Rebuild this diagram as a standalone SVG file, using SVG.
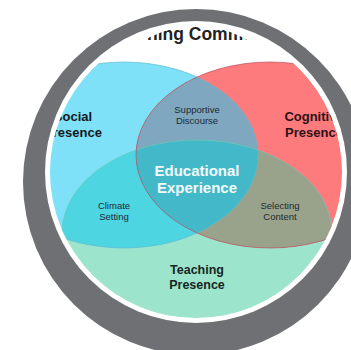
<svg xmlns="http://www.w3.org/2000/svg" width="351" height="350" viewBox="0 0 351 350">
<defs>
<style>
.lbl{font-family:"Liberation Sans",Arial,sans-serif;text-anchor:middle}
.big{font-weight:bold;font-size:13px;fill:#15181c}
.tch{font-weight:bold;font-size:12.5px;fill:#17261f}
.sm{font-size:9.5px;fill:#1d2a33}
.edu{font-weight:bold;font-size:15px;fill:#f2fbfc}
.edge{fill:none;stroke-width:0.7}
</style>
<clipPath id="frame"><circle cx="196" cy="172" r="146"/></clipPath>
<clipPath id="tclip"><ellipse cx="196" cy="172" rx="120" ry="146"/></clipPath>
<clipPath id="cS"><ellipse cx="124" cy="155" rx="134" ry="93"/></clipPath>
<clipPath id="cC"><ellipse cx="270" cy="155" rx="134" ry="93"/></clipPath>
</defs>
<rect width="351" height="350" fill="#ffffff"/>
<g id="ring">
<circle cx="196" cy="182" r="173" fill="#6f7074"/>
<circle cx="196" cy="172" r="151" fill="#ffffff"/>
</g>
<g clip-path="url(#frame)">
<g id="title" clip-path="url(#tclip)">
<text x="110" y="40" font-family="Liberation Sans, Arial, sans-serif" font-weight="bold" font-size="17.5" fill="#222">Learning Community</text>
</g>
<g id="teaching"><ellipse cx="197" cy="233" rx="135" ry="93" fill="#9ce5cc"/></g>
<g id="social"><ellipse cx="124" cy="155" rx="134" ry="93" fill="#7ee1f7"/></g>
<g id="cognitive"><ellipse cx="270" cy="155" rx="134" ry="93" fill="#fd7b7d"/></g>
<g id="supportive" clip-path="url(#cS)"><ellipse cx="270" cy="155" rx="134" ry="93" fill="#7fa7bf"/></g>
<g id="climate" clip-path="url(#cS)"><ellipse cx="197" cy="233" rx="135" ry="93" fill="#4dd5e1"/></g>
<g id="selecting" clip-path="url(#cC)"><ellipse cx="197" cy="233" rx="135" ry="93" fill="#99a38b"/></g>
<g id="center" clip-path="url(#cS)"><g clip-path="url(#cC)"><ellipse cx="197" cy="233" rx="135" ry="93" fill="#43b8c8"/></g></g>
<g id="edges">
<ellipse class="edge" cx="197" cy="233" rx="135" ry="93" stroke="#6cc8b8"/>
<ellipse class="edge" cx="124" cy="155" rx="134" ry="93" stroke="#5cbcd2"/>
<ellipse class="edge" cx="270" cy="155" rx="134" ry="93" stroke="#b85060"/>
</g>
<g id="labels" class="lbl">
<text class="big" x="73" y="121">Social</text>
<text class="big" x="73" y="137">Presence</text>
<text class="big" x="314" y="121" style="fill:#2e1016">Cognitive</text>
<text class="big" x="314" y="137" style="fill:#2e1016">Presence</text>
<text class="sm" x="197" y="113">Supportive</text>
<text class="sm" x="197" y="124">Discourse</text>
<text class="edu" x="197" y="176">Educational</text>
<text class="edu" x="197" y="193">Experience</text>
<text class="sm" x="114" y="209">Climate</text>
<text class="sm" x="114" y="220">Setting</text>
<text class="sm" x="280" y="209">Selecting</text>
<text class="sm" x="280" y="220">Content</text>
<text class="tch" x="197" y="274">Teaching</text>
<text class="tch" x="197" y="289">Presence</text>
</g>
</g>
</svg>
